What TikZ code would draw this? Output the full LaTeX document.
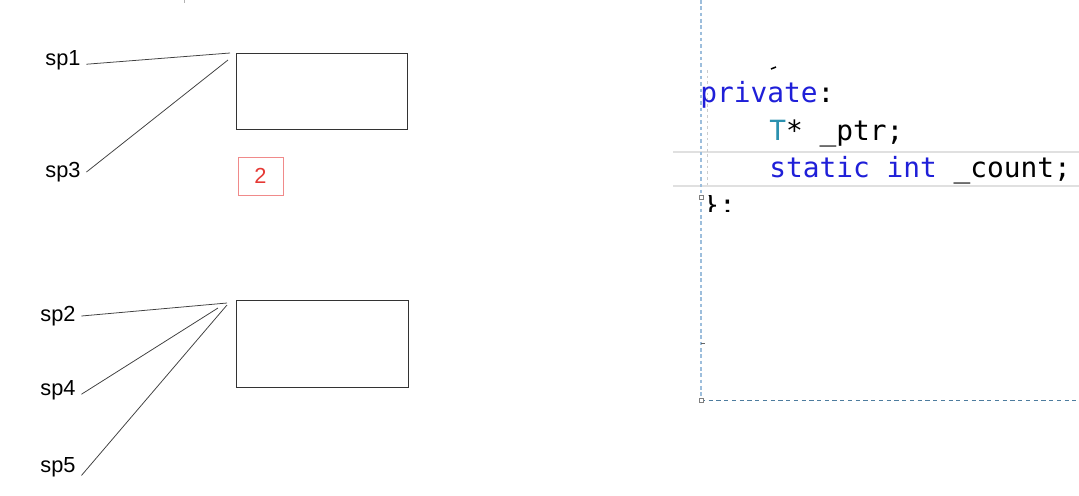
\documentclass[tikz,border=0pt]{standalone}
\usepackage{fontspec}
\setmainfont{Liberation Sans}
\setmonofont{DejaVu Sans Mono}
\usetikzlibrary{positioning}
\definecolor{vsblue}{HTML}{1F1FD8}
\definecolor{vsteal}{HTML}{2B91AF}
\definecolor{vsguide}{HTML}{9DBEDC}
\definecolor{vsedge}{HTML}{4D7C9E}
\definecolor{mkred}{HTML}{E53935}
\definecolor{mkpink}{HTML}{F08A8A}
\begin{document}
\begin{tikzpicture}[x=0.025cm,y=-0.025cm,
 ptr/.style={font=\fontsize{15.5}{18}\selectfont,inner ysep=1pt,inner xsep=4pt},
 obj/.style={draw=black!80,line width=0.6pt,minimum width=4.275cm,minimum height=1.9cm},
 link/.style={draw=black!75,line width=0.55pt},
 code/.style={font=\fontsize{19.8}{22}\selectfont\ttfamily,anchor=base west,inner sep=0pt}]
\useasboundingbox (0,0) rectangle (1079,495);
% left: smart pointers and the objects they share
\node[obj](o1) at (321.5,91){};
\node[obj,minimum width=4.3cm,minimum height=2.175cm](o2) at (322,343.5){};
\node[draw=mkpink,text=mkred,minimum width=1.125cm,minimum height=0.95cm,font=\fontsize{15.5}{18}\selectfont](cnt) at (260.5,176){2};
\node[ptr](sp1) at (63,60){sp1};
\node[ptr](sp3) at (63,172){sp3};
\node[ptr](sp2) at (58,316){sp2};
\node[ptr](sp4) at (58,390){sp4};
\node[ptr](sp5) at (58,467){sp5};
\coordinate(h1) at (230,53);
\coordinate(h3) at (228,60);
\coordinate(h2) at (227,303);
\coordinate(h4) at (218,308);
\coordinate(h5) at (227,305);
\draw[link]([yshift=-3pt]sp1.east)--(h1);
\draw[link](sp3.east)--(h3);
\draw[link](sp2.east)--(h2);
\draw[link]([yshift=-3pt]sp4.east)--(h4);
\draw[link]([yshift=-6pt]sp5.east)--(h5);
\draw[black!30,line width=0.6pt](184,0)--(184,3);
% right: editor snippet
\draw[black!12,line width=1.4pt](673,152)--(1079,152);
\draw[black!12,line width=1.4pt](673,186)--(1079,186);
\draw[black!20,dash pattern=on 2pt off 2pt,line width=0.5pt](707,70)--(707,185);
\draw[vsguide,dash pattern=on 2.5pt off 2pt,line width=1.1pt](701,0)--(701,400);
\draw[vsedge,dash pattern=on 3pt off 2.5pt,line width=0.7pt](701,400)--(1079,400);
\draw[black!50,fill=white,line width=0.4pt](699,398) rectangle (703,402);
\draw[black!50,fill=white,line width=0.4pt](699,195) rectangle (703,199);
\draw[black!60,line width=0.5pt](701,343)--(705,343);
\draw[line width=1.1pt](771,69)--(776,67);
\node[code,text=vsblue](kw) at (700,102){private\textcolor{black}{:}};
\node[code](m1) at (769,140){\textcolor{vsteal}{T}* \_ptr;};
\node[code](m2) at (769,177){\textcolor{vsblue}{static int} \_count;};
\begin{scope}
\clip (690,195) rectangle (760,211);
\node[code](end) at (702,214){\};};
\end{scope}
\end{tikzpicture}
\end{document}
